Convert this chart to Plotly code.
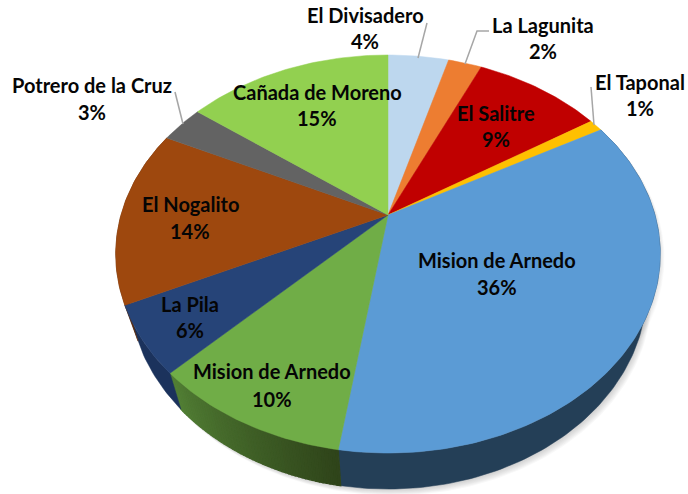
import numpy as np
import plotly.graph_objects as go

# Data
categories = ["El Divisadero", "La Lagunita", "El Salitre", "El Taponal", "Mision de Arnedo",
              "Mision de Arnedo", "La Pila", "El Nogalito", "Potrero de la Cruz", "Cañada de Moreno"]
values = [4.35, 2.4, 9.15, 1.0, 35.5, 10.0, 5.5, 14.3, 3.1, 14.7]
colors = ["#BDD7EE", "#ED7D31", "#C00000", "#FFC000", "#5B9BD5",
          "#70AD47", "#264478", "#9E480E", "#636363", "#92D050"]
side_left = ["#BDD7EE", "#ED7D31", "#C00000", "#FFC000", "#243F57",
             "#2F441A", "#1B325C", "#5E2B08", "#3A3A3A", "#55792E"]
side_right = ["#BDD7EE", "#ED7D31", "#C00000", "#FFC000", "#243F57",
              "#527F35", "#1B325C", "#5E2B08", "#3A3A3A", "#55792E"]

# Layout / projection of the tilted disc (pixel-like scale)
W, H = 688, 494
CX, CY = 388.0, 215.0
A, B, K = 267.0, 191.4, 0.196
DEPTH, SX = 36.0, 0.95


def rim(deg):
    t = np.radians(deg)
    w = 1.0 / (1.0 + K * np.cos(t))
    return CX + A * np.sin(t) * w, CY - B * np.cos(t) * w


def low(deg):
    x, y = rim(deg)
    return CX + (x - CX) * SX, y + DEPTH


fig = go.Figure()
total = sum(values)
edges = np.cumsum([0] + values) * 360.0 / total


def poly(x, y, color, opacity=1.0, lw=0.6):
    fig.add_trace(go.Scatter(x=list(x), y=list(y), mode="lines", fill="toself", fillcolor=color,
                             line=dict(color=color, width=lw), opacity=opacity,
                             hoverinfo="skip", showlegend=False))


# soft shadow under the wall
all_deg = np.linspace(0, 360, 361)
for i in range(1, 8):
    lx, ly = low(all_deg)
    poly(lx + i * 0.7, ly + i * 0.9, "#808080", opacity=0.055, lw=0)
    rx, ry = rim(all_deg)
    poly(rx + i * 0.6, ry + i * 0.6, "#808080", opacity=0.03, lw=0)


def hex2rgb(h):
    return np.array([int(h[j:j + 2], 16) for j in (1, 3, 5)], float)


# side wall; the shaded slice is cut into strips
for i in range(len(values)):
    a0, a1 = edges[i], edges[i + 1]
    if a1 <= 85 or a0 >= 275:
        continue
    if side_left[i] == side_right[i]:
        seg = np.linspace(a0, a1, int(a1 - a0) + 2)
        tx, ty = rim(seg)
        bx, by = low(seg)
        poly(np.r_[tx, bx[::-1], tx[0]], np.r_[ty, by[::-1], ty[0]], side_left[i], lw=0.5)
        continue
    c0, c1 = hex2rgb(side_left[i]), hex2rgb(side_right[i])
    n = max(2, int((a1 - a0) * 1.5))
    grid = np.linspace(a0, a1, n + 1)
    for j in range(n):
        f = (j + 0.5) / n
        c = c0 + (c1 - c0) * f
        seg = np.array([grid[j], grid[j + 1]])
        tx, ty = rim(seg)
        bx, by = low(seg)
        col = "#%02x%02x%02x" % tuple(int(v) for v in c)
        poly(np.r_[tx, bx[::-1], tx[0]], np.r_[ty, by[::-1], ty[0]], col, lw=1.2)

# top face
for i, col in enumerate(colors):
    seg = np.linspace(edges[i], edges[i + 1], max(3, int(values[i] * 3.6) + 2))
    tx, ty = rim(seg)
    poly(np.r_[CX, tx, CX], np.r_[CY, ty, CY], col, lw=0.5)

# leader lines
leaders = [([427, 418], [23, 58]), ([489, 477, 465], [31, 31, 64]),
           ([591, 594], [87, 125]), ([175, 183], [92, 124])]
for lx, ly in leaders:
    fig.add_trace(go.Scatter(x=lx, y=ly, mode="lines", line=dict(color="#A6A6A6", width=1.5),
                             hoverinfo="skip", showlegend=False))

# labels: centre x, name line y, percent line y
label_pos = [(365, 15, 41), (543, 25, 51), (496, 113, 139), (640, 82, 108), (497, 260, 287),
             (272, 371, 399), (190, 304, 330), (190, 204, 231), (92, 85, 112), (317, 92, 118)]
font = dict(family="Lato, Carlito, sans-serif", size=20, color="#050505")
for name, v, (x, y1, y2) in zip(categories, values, label_pos):
    fig.add_annotation(x=x, y=y1, text="<b>%s</b>" % name, showarrow=False, font=font)
    fig.add_annotation(x=x, y=y2, text="<b>%d%%</b>" % int(v + 0.5), showarrow=False, font=font)

fig.update_layout(
    width=W, height=H, margin=dict(l=0, r=0, t=0, b=0),
    paper_bgcolor="white", plot_bgcolor="white", showlegend=False,
    xaxis=dict(range=[0, W], visible=False, fixedrange=True),
    yaxis=dict(range=[H, 0], visible=False, fixedrange=True),
)
fig.write_html("out.html", config={"displayModeBar": False},
               post_script="document.body.style.margin='0';document.documentElement.style.overflow='hidden';")
